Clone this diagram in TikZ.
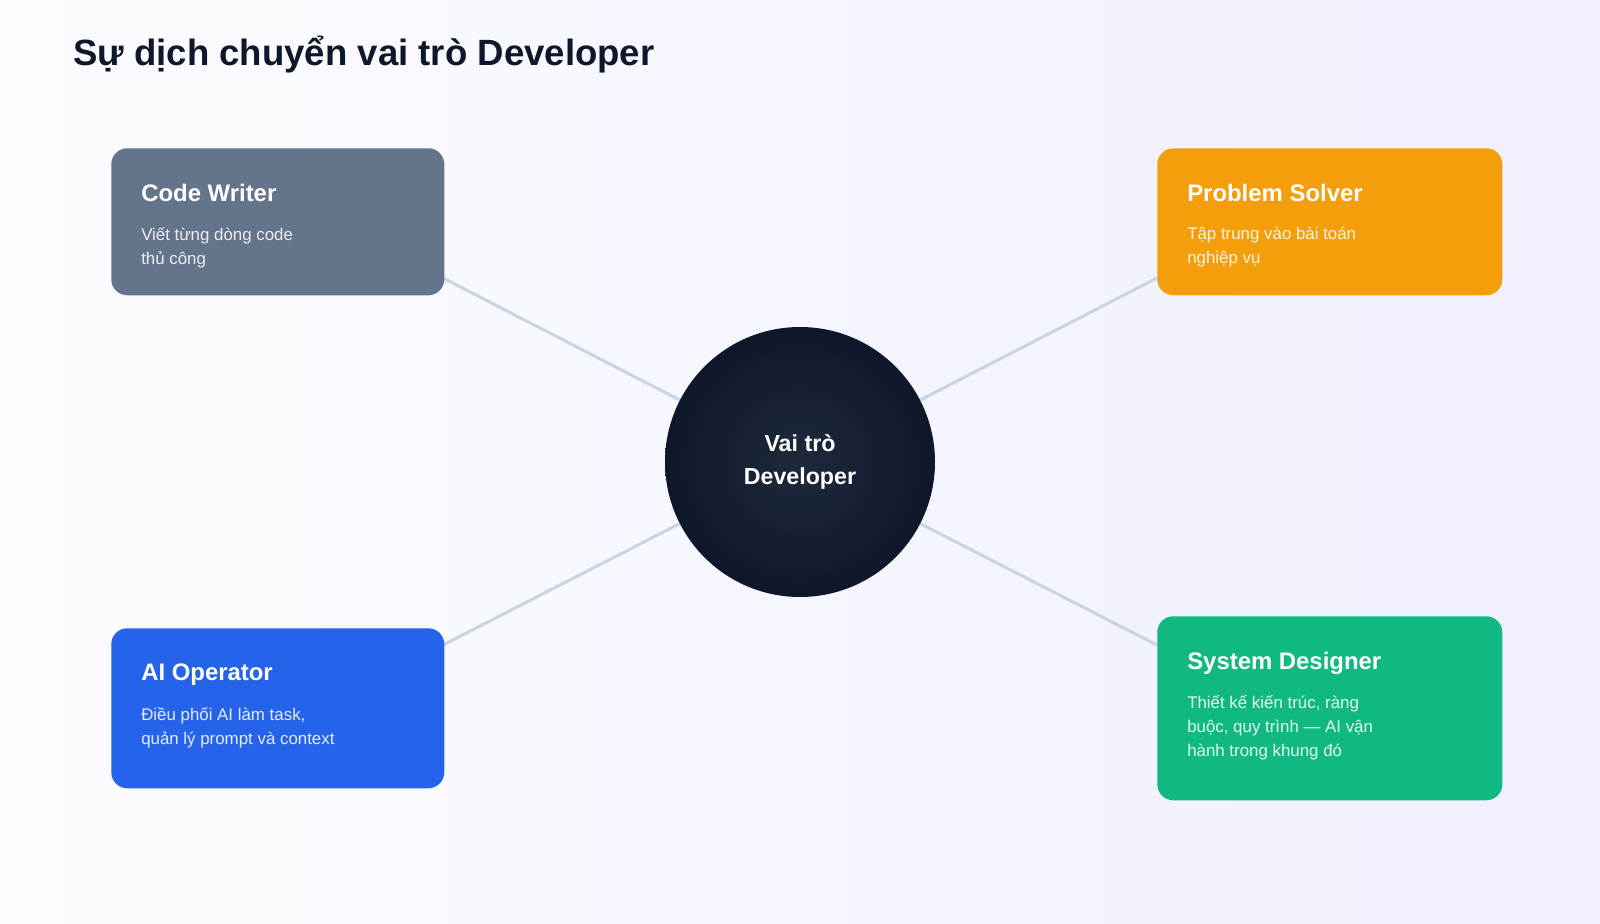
\documentclass[tikz,border=0pt]{standalone}
\usepackage{fontspec}
\setmainfont{Liberation Sans}
\usetikzlibrary{positioning,backgrounds}
\definecolor{ink}{HTML}{0F172A}
\definecolor{inkmid}{HTML}{1E293B}
\definecolor{slatebox}{HTML}{64748B}
\definecolor{amberbox}{HTML}{F59E0B}
\definecolor{bluebox}{HTML}{2563EB}
\definecolor{greenbox}{HTML}{10B981}
\definecolor{linkgray}{HTML}{CBD5E1}
\tikzset{
  role/.style={rectangle,rounded corners=16*0.025cm,inner sep=0pt},
  roletitle/.style={anchor=north west,inner sep=0pt,text=white,font=\fontsize{17}{20}\selectfont\bfseries},
  roletext/.style={anchor=north west,inner sep=0pt,align=left,font=\fontsize{12}{17.2}\selectfont},
  link/.style={draw=linkgray,line width=2.2pt}
}
\begin{document}
\begin{tikzpicture}[x=0.025cm,y=-0.025cm]
  \useasboundingbox (0,0) rectangle (1600,924);

  \node[anchor=west,inner sep=0pt,text=ink,font=\fontsize{26}{30}\selectfont\bfseries] (title) at (73,55) {Sự dịch chuyển vai trò Developer};

  % center
  \node[circle,minimum size=270*0.025cm,inner sep=0pt,inner color=inkmid,outer color=ink,
        text=white,align=center,font=\fontsize{16.5}{23}\selectfont\bfseries] (dev) at (800,462) {Vai trò\\Developer};

  % roles
  \node[role,fill=slatebox,minimum width=333*0.025cm,minimum height=147*0.025cm,anchor=north west] (cw) at (111,148) {};
  \node[roletitle] (cwt) at ([shift={(30,36)}]cw.north west) {Code Writer};
  \node[roletext,text=white!88!slatebox] (cwd) at ([shift={(30,79)}]cw.north west) {Viết từng dòng code\\thủ công};

  \node[role,fill=amberbox,minimum width=345*0.025cm,minimum height=147*0.025cm,anchor=north west] (ps) at (1157,148) {};
  \node[roletitle] (pst) at ([shift={(30,36)}]ps.north west) {Problem Solver};
  \node[roletext,text=white!88!amberbox] (psd) at ([shift={(30,79)}]ps.north west) {Tập trung vào bài toán\\nghiệp vụ};

  \node[role,fill=bluebox,minimum width=333*0.025cm,minimum height=160*0.025cm,anchor=north west] (ai) at (111,628) {};
  \node[roletitle] (ait) at ([shift={(30,36)}]ai.north west) {AI Operator};
  \node[roletext,text=white!88!bluebox] (aid) at ([shift={(30,79)}]ai.north west) {Điều phối AI làm task,\\quản lý prompt và context};

  \node[role,fill=greenbox,minimum width=345*0.025cm,minimum height=184*0.025cm,anchor=north west] (sd) at (1157,616) {};
  \node[roletitle] (sdt) at ([shift={(30,36)}]sd.north west) {System Designer};
  \node[roletext,text=white!88!greenbox] (sdd) at ([shift={(30,79)}]sd.north west) {Thiết kế kiến trúc, ràng\\buộc, quy trình — AI vận\\hành trong khung đó};

  % links
  \coordinate (cwe) at (443,278);
  \coordinate (pse) at (1157,278);
  \coordinate (aie) at (443,645);
  \coordinate (sde) at (1157,645);
  \begin{pgfonlayer}{background}
    \shade[left color=white!60!blue!3,right color=blue!6] (0,0) rectangle (1600,924);
    \foreach \c in {cwe,pse,aie,sde}
      \draw[link] (\c) -- (dev.center);
  \end{pgfonlayer}
\end{tikzpicture}
\end{document}
